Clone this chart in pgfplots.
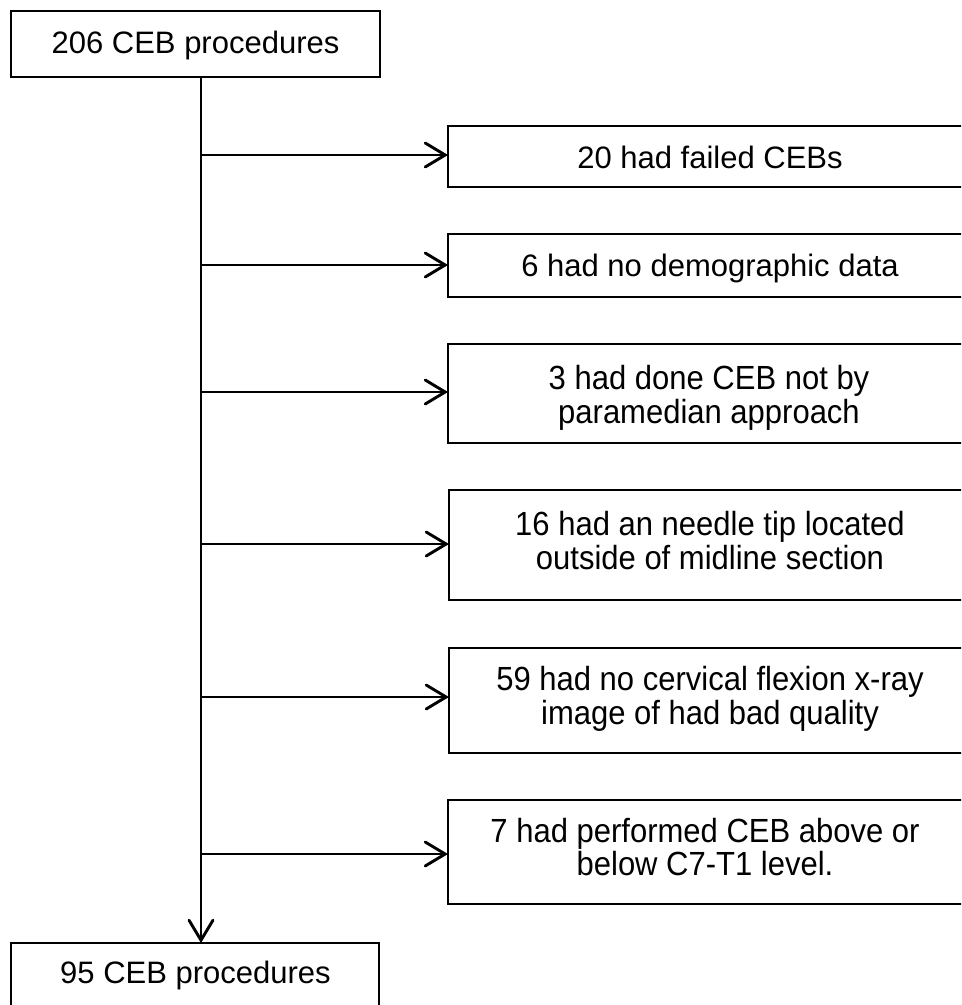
\documentclass[border=0pt]{standalone}
\usepackage{fontspec}
\setmainfont{Liberation Sans}
\usepackage{pgfplots}
\pgfplotsset{compat=1.18}
\usetikzlibrary{arrows.meta}
\tikzset{txt/.style={anchor=base, font=\fontsize{31bp}{34bp}\selectfont, inner sep=0pt},
  txt2/.style={txt, yscale=1.08},
  sarr/.style={line cap=butt, -{Straight Barb[length=20bp,width=24bp,line cap=round]}}}
\begin{document}
\begin{tikzpicture}
\begin{axis}[name=ax, width=961bp, height=1005bp, scale only axis,
  xmin=0, xmax=961, ymin=0, ymax=1005, y dir=reverse, hide axis, clip=true,
  cycle list={{black,mark=none}},
  every axis plot post/.append style={black, mark=none, line width=2.9bp, line join=miter}]
% boxes
\addplot[line cap=rect] coordinates {(11,11) (380,11) (380,77) (11,77) (11,11)};
\addplot[line cap=rect] coordinates {(975,126) (448,126) (448,187) (975,187)};
\addplot[line cap=rect] coordinates {(975,234) (448,234) (448,297) (975,297)};
\addplot[line cap=rect] coordinates {(975,344) (448,344) (448,443) (975,443)};
\addplot[line cap=rect] coordinates {(975,490) (449,490) (449,600) (975,600)};
\addplot[line cap=rect] coordinates {(975,648) (449,648) (449,753) (975,753)};
\addplot[line cap=rect] coordinates {(975,800) (448,800) (448,904) (975,904)};
\addplot[line cap=rect] coordinates {(11,1020) (11,943) (379,943) (379,1020)};
% main vertical arrow
\addplot[sarr] coordinates {(201,77) (201,943)};
% side arrows
\addplot[sarr] coordinates {(201,155) (448,155)};
\addplot[sarr] coordinates {(201,265) (448,265)};
\addplot[sarr] coordinates {(201,392) (448,392)};
\addplot[sarr] coordinates {(201,544) (449,544)};
\addplot[sarr] coordinates {(201,697) (449,697)};
\addplot[sarr] coordinates {(201,854) (448,854)};
% texts
\node[txt] at (axis cs:195.5,53) {206 CEB procedures};
\node[txt] at (axis cs:710,168) {20 had failed CEBs};
\node[txt] at (axis cs:710,276) {6 had no demographic data};
\node[txt2] at (axis cs:709,389) {3 had done CEB not by};
\node[txt2] at (axis cs:709,423) {paramedian approach};
\node[txt2] at (axis cs:710,535) {16 had an needle tip located};
\node[txt2] at (axis cs:710,569) {outside of midline section};
\node[txt2] at (axis cs:710,690) {59 had no cervical flexion x-ray};
\node[txt2] at (axis cs:710,724) {image of had bad quality};
\node[txt2] at (axis cs:705,842) {7 had performed CEB above or};
\node[txt2] at (axis cs:705,875) {below C7-T1 level.};
\node[txt] at (axis cs:195.5,983) {95 CEB procedures};
\end{axis}
\pgfresetboundingbox
\path[use as bounding box] (ax.south west) rectangle (ax.north east);
\end{tikzpicture}
\end{document}
